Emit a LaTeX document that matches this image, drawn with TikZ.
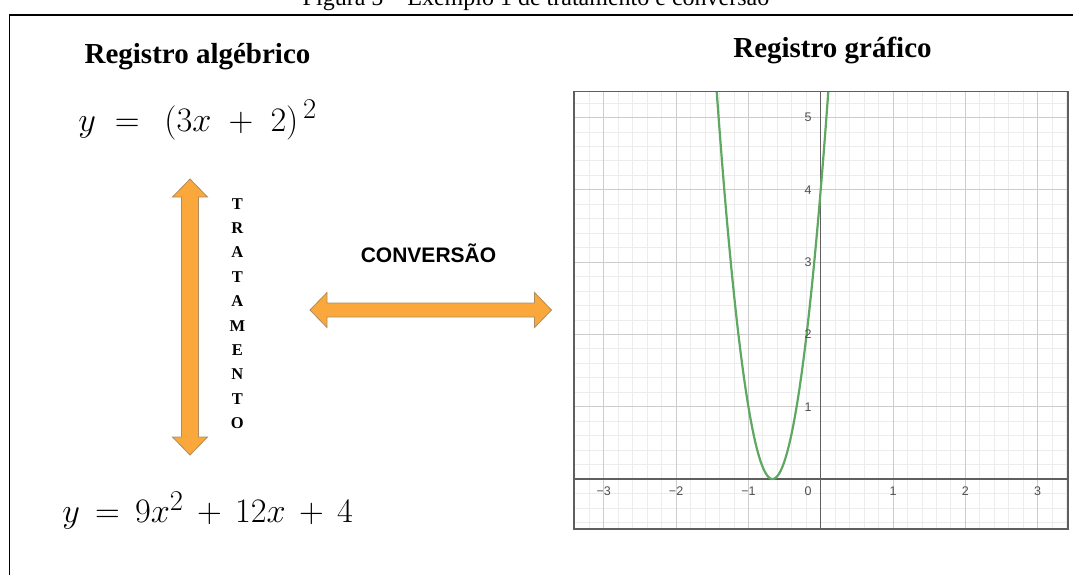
\documentclass[tikz,border=0pt]{standalone}
\usepackage{fontspec}
\setmainfont{Liberation Serif}
\setsansfont{Liberation Sans}
\usepackage{xcolor}
\usetikzlibrary{positioning, calc}

\definecolor{arroworange}{RGB}{250,168,60}
\definecolor{arrowedge}{RGB}{175,140,95}
\definecolor{curvegreen}{RGB}{95,168,98}
\definecolor{gridminor}{RGB}{236,236,236}
\definecolor{gridmajor}{RGB}{204,204,204}
\definecolor{axisgray}{RGB}{95,95,95}
\definecolor{labelgray}{RGB}{80,80,80}

\begin{document}
\begin{tikzpicture}[
    x=1pt, y=-1pt,
    heading/.style={font=\fontsize{29}{32}\selectfont\bfseries, anchor=base, inner sep=0pt},
    formula/.style={font=\fontsize{24.88}{30}\selectfont, scale=1.38, transform shape, anchor=base west, inner sep=0pt},
    fatarrow/.style={fill=arroworange, draw=arrowedge, line width=0.8pt, line join=miter},
    ticklabel/.style={font=\sffamily\fontsize{12.5}{13}\selectfont, text=labelgray, inner sep=0pt}
]
\path[use as bounding box, fill=white] (0,0) rectangle (1073,574);

\node[font=\fontsize{24}{28}\selectfont, anchor=base] (caption) at (536,5) {Figura 5 -- Exemplo 1 de tratamento e conversão};
\draw[line width=1.5pt] (9.5,600) -- (9.5,15) -- (1100,15);

\node[heading] (algtitle) at (197.5,63) {Registro algébrico};
\node[heading] (graftitle) at (832.5,57) {Registro gráfico};

\node[formula] (eqfact) at (78,131) {$y\;=\;\,(3x\;+\;2)^{\,2}$};
\node[formula] (eqexp) at (62,522.7) {$y\,=\,9x^{2}\,+\,12x\,+\,4$};

\draw[fatarrow] (190,179) -- (207.5,197) -- (198.5,197) -- (198.5,437) -- (207.5,437) -- (190,455)
    -- (172.5,437) -- (181.5,437) -- (181.5,197) -- (172.5,197) -- cycle;
\node[font=\bfseries\fontsize{16.5}{24.4}\selectfont, align=center, inner sep=0pt] (trat) at (237.3,313.5)
    {T\\R\\A\\T\\A\\M\\E\\N\\T\\O};

\node[font=\sffamily\bfseries\fontsize{21}{24}\selectfont, anchor=base, inner sep=0pt] (conv) at (428.5,262.3) {CONVERSÃO};
\draw[fatarrow] (310,310) -- (327,292.5) -- (327,303) -- (534.5,303) -- (534.5,292.5) -- (551.5,310)
    -- (534.5,327.5) -- (534.5,317) -- (327,317) -- (327,327.5) -- cycle;

\begin{scope}[shift={(820.7,479)}, x=72.3pt, y=72.3pt]
  \begin{scope}
    \clip (-3.41,-0.69) rectangle (3.42,5.36);
    \draw[gridminor, line width=0.8pt, step=0.2] (-3.6,-0.8) grid (3.6,5.6);
    \draw[gridmajor, line width=1pt, step=1] (-3.6,-0.8) grid (3.6,5.6);
    \draw[axisgray, line width=1.2pt] (-3.41,0) -- (3.42,0) (0,-0.69) -- (0,5.36);
    \draw[curvegreen, line width=2.2pt, domain=-1.46:0.13, samples=160, smooth] plot (\x,{(3*\x+2)^2});
  \end{scope}
  \draw[axisgray, line width=1.8pt] (-3.41,-0.69) rectangle (3.42,5.36);
  \foreach \t/\s [count=\i] in {-3/{−3},-2/{−2},-1/{−1},1/1,2/2,3/3}
    \node[ticklabel] (xlab\i) at (\t,-0.166) {\s};
  \node[ticklabel] (zlab) at (-0.176,-0.166) {0};
  \foreach \t [count=\i] in {1,...,5}
    \node[ticklabel] (ylab\i) at (-0.176,\t) {\t};
\end{scope}
\end{tikzpicture}
\end{document}
